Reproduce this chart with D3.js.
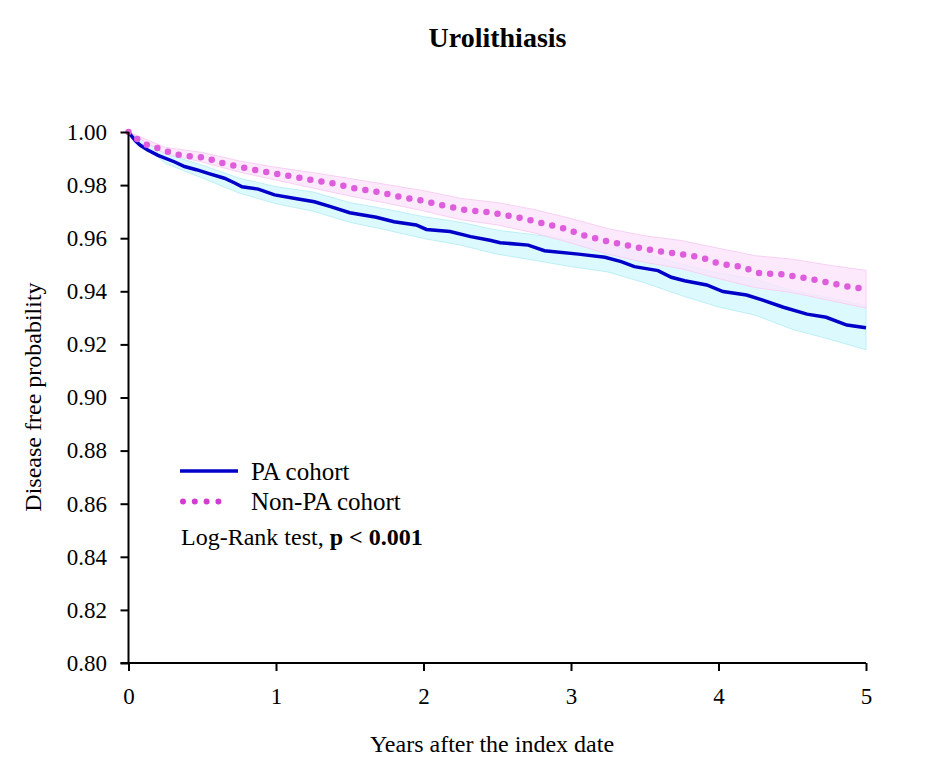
<!DOCTYPE html>
<html>
<head>
<meta charset="utf-8">
<script src="https://cdn.jsdelivr.net/npm/d3@7"></script>
<style>
  body { margin: 0; background: #fff; }
  text { font-family: "Liberation Serif", "Times New Roman", serif; fill: #000; }
</style>
</head>
<body>
<svg width="943" height="778"></svg>
<script>
// PA cohort Kaplan-Meier curve (years, survival)
const paYears = [0, 0.02, 0.05, 0.08, 0.13, 0.20, 0.31, 0.38, 0.46, 0.54, 0.65, 0.72, 0.77, 0.88, 0.99,
  1.15, 1.26, 1.37, 1.50, 1.68, 1.80, 1.95, 2.02, 2.18, 2.32, 2.45, 2.52, 2.71, 2.82, 3.05, 3.23, 3.34,
  3.43, 3.59, 3.68, 3.77, 3.92, 4.03, 4.19, 4.30, 4.44, 4.60, 4.73, 4.87, 5.00];
const paSurv = [1.000, 0.9985, 0.9965, 0.9950, 0.9932, 0.9912, 0.9888, 0.9870, 0.9858, 0.9844, 0.9826,
  0.9808, 0.9794, 0.9785, 0.9763, 0.9748, 0.9737, 0.9719, 0.9696, 0.9679, 0.9662, 0.9650, 0.9633, 0.9625,
  0.9606, 0.9592, 0.9583, 0.9574, 0.9553, 0.9540, 0.9528, 0.9512, 0.9493, 0.9478, 0.9453, 0.9440, 0.9424,
  0.9399, 0.9386, 0.9367, 0.9340, 0.9314, 0.9302, 0.9273, 0.9263];

// Non-PA cohort curve
const nonYears = [0, 0.08, 0.15, 0.23, 0.29, 0.37, 0.45, 0.53, 0.61, 0.68, 0.76, 0.83, 0.91, 0.99, 1.07,
  1.15, 1.23, 1.38, 1.53, 1.68, 1.84, 2.00, 2.14, 2.29, 2.44, 2.52, 2.67, 2.81, 2.95, 3.08, 3.23, 3.37,
  3.51, 3.65, 3.74, 3.88, 4.01, 4.15, 4.28, 4.43, 4.58, 4.72, 4.85, 5.00];
const nonSurv = [1.000, 0.9964, 0.9945, 0.9935, 0.9920, 0.9911, 0.9907, 0.9903, 0.9886, 0.9878, 0.9868,
  0.9860, 0.9851, 0.9844, 0.9836, 0.9829, 0.9820, 0.9807, 0.9788, 0.9775, 0.9756, 0.9741, 0.9722, 0.9706,
  0.9698, 0.9690, 0.9675, 0.9656, 0.9637, 0.9612, 0.9590, 0.9574, 0.9558, 0.9547, 0.9540, 0.9528, 0.9503,
  0.9493, 0.9468, 0.9464, 0.9451, 0.9436, 0.9420, 0.9408];

// 95% confidence bands
const ciYears = [0, 0.25, 0.5, 0.75, 1.0, 1.25, 1.5, 1.75, 2.0, 2.25, 2.5, 2.75, 3.0, 3.25, 3.5, 3.75,
  4.0, 4.25, 4.5, 4.75, 5.0];
const paLower = [1.000, 0.9882, 0.9827, 0.9770, 0.9730, 0.9702, 0.9660, 0.9631, 0.9599, 0.9574, 0.9540,
  0.9517, 0.9493, 0.9473, 0.9432, 0.9384, 0.9341, 0.9310, 0.9257, 0.9220, 0.9180];
const paUpper = [1.000, 0.9918, 0.9875, 0.9826, 0.9794, 0.9774, 0.9734, 0.9709, 0.9681, 0.9660, 0.9630,
  0.9613, 0.9593, 0.9577, 0.9542, 0.9502, 0.9469, 0.9446, 0.9403, 0.9376, 0.9346];
const nonLower = [1.000, 0.9918, 0.9887, 0.9849, 0.9819, 0.9789, 0.9759, 0.9732, 0.9703, 0.9670, 0.9650,
  0.9620, 0.9582, 0.9540, 0.9509, 0.9485, 0.9448, 0.9414, 0.9395, 0.9366, 0.9337];
const nonUpper = [1.000, 0.9942, 0.9923, 0.9891, 0.9867, 0.9847, 0.9825, 0.9802, 0.9779, 0.9750, 0.9734,
  0.9708, 0.9674, 0.9636, 0.9609, 0.9591, 0.9562, 0.9534, 0.9521, 0.9498, 0.9479];

const xTicks = [0, 1, 2, 3, 4, 5];
const yTicks = [0.80, 0.82, 0.84, 0.86, 0.88, 0.90, 0.92, 0.94, 0.96, 0.98, 1.00];

const svg = d3.select('svg');

let x = d3.scaleLinear().domain([0, 5]).range([128.5, 866]);
let y = d3.scaleLinear().domain([0.8, 1.0]).range([663, 132]);

const band = d3.area()
    .x(d => x(d.t))
    .y0(d => y(d.lo))
    .y1(d => y(d.hi));

const paBand = ciYears.map((t, i) => ({t: t, lo: paLower[i], hi: paUpper[i]}));
const nonBand = ciYears.map((t, i) => ({t: t, lo: nonLower[i], hi: nonUpper[i]}));

// bands first, pink on top of cyan
svg.append('path').datum(paBand)
    .attr('d', band)
    .attr('fill', '#dcfafd')
    .attr('stroke', '#bdeff6')
    .attr('stroke-width', 1);
svg.append('path').datum(nonBand)
    .attr('d', band)
    .attr('fill', '#fde3fb')
    .attr('fill-opacity', 0.8)
    .attr('stroke', '#f8d0f4')
    .attr('stroke-width', 1);

const curveLine = d3.line()
    .x(d => x(d[0]))
    .y(d => y(d[1]));

svg.append('path').datum(paYears.map((t, i) => [t, paSurv[i]]))
    .attr('d', curveLine)
    .attr('fill', 'none')
    .attr('stroke', '#0000c8')
    .attr('stroke-width', 3.5)
    .attr('stroke-linejoin', 'miter');

svg.append('path').datum(nonYears.map((t, i) => [t, nonSurv[i]]))
    .attr('d', curveLine)
    .attr('fill', 'none')
    .attr('stroke', '#dd5ddd')
    .attr('stroke-width', 6.5)
    .attr('stroke-linecap', 'round')
    .attr('stroke-dasharray', '0 11.2');

// axes
const xAxis = svg.append('g')
    .attr('transform', 'translate(0,663)')
    .call(d3.axisBottom(x).tickValues(xTicks).tickFormat(d3.format('d')).tickSize(8).tickPadding(17));
const yAxis = svg.append('g')
    .attr('transform', 'translate(128.5,0)')
    .call(d3.axisLeft(y).tickValues(yTicks).tickFormat(d3.format('.2f')).tickSize(8).tickPadding(13.5));

[xAxis, yAxis].forEach(function(g) {
    g.select('.domain').attr('stroke', '#000').attr('stroke-width', 2);
    g.selectAll('.tick line').attr('stroke', '#000').attr('stroke-width', 2);
    g.selectAll('.tick text')
        .style('font-family', '"Liberation Serif", serif')
        .style('font-size', '23px')
        .attr('fill', '#000');
});
yAxis.select('.domain').attr('d', 'M-8,531H0V0');
yAxis.select('.domain').attr('d', 'M0,663V132');
xAxis.select('.domain').attr('d', 'M120.5,0H866');

// titles
svg.append('text')
    .attr('x', 497.5).attr('y', 47)
    .attr('text-anchor', 'middle')
    .style('font-size', '28px').style('font-weight', 'bold')
    .text('Urolithiasis');

svg.append('text')
    .attr('x', 492).attr('y', 752)
    .attr('text-anchor', 'middle')
    .style('font-size', '24px')
    .text('Years after the index date');

svg.append('text')
    .attr('transform', 'translate(41,397) rotate(-90)')
    .attr('text-anchor', 'middle')
    .style('font-size', '24px')
    .text('Disease free probability');

// legend
const leg = svg.append('g');
leg.append('line')
    .attr('x1', 180).attr('x2', 238).attr('y1', 471).attr('y2', 471)
    .attr('stroke', '#0000c8').attr('stroke-width', 3.5);
leg.append('line')
    .attr('x1', 183).attr('x2', 230).attr('y1', 501.5).attr('y2', 501.5)
    .attr('stroke', '#d23cd2').attr('stroke-width', 6)
    .attr('stroke-linecap', 'round').attr('stroke-dasharray', '0 11.8');
leg.append('text').attr('x', 251).attr('y', 480).style('font-size', '25px').text('PA cohort');
leg.append('text').attr('x', 251).attr('y', 510).style('font-size', '25px').text('Non-PA cohort');
const lr = leg.append('text').attr('x', 181).attr('y', 545).style('font-size', '24px');
lr.append('tspan').text('Log-Rank test, ');
lr.append('tspan').style('font-weight', 'bold').text('p < 0.001');
</script>
</body>
</html>
